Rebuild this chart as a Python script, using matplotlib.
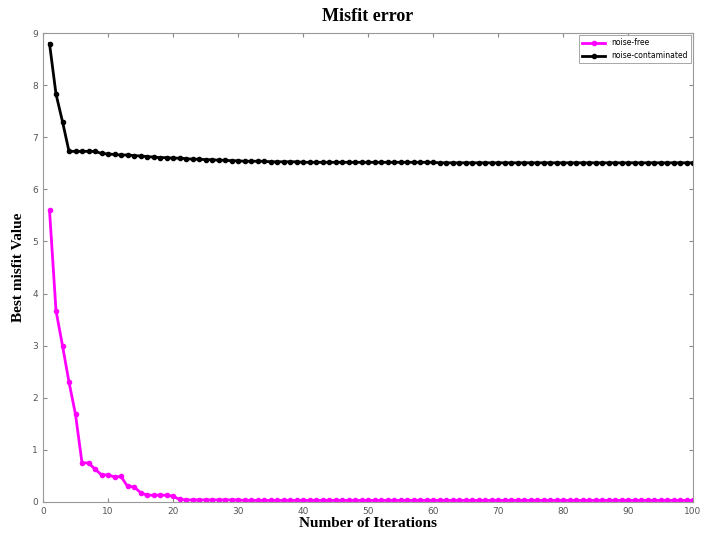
import matplotlib
matplotlib.use("Agg")
import matplotlib.pyplot as plt
import numpy as np

iterations = np.arange(1, 101)

noise_free = [5.60, 3.67, 3.00, 2.30, 1.68, 0.75, 0.75, 0.63, 0.52, 0.52,
              0.48, 0.49, 0.30, 0.29, 0.18, 0.13, 0.13, 0.13, 0.13, 0.11,
              0.05, 0.04, 0.04, 0.04, 0.04, 0.04, 0.04, 0.04, 0.04, 0.04] + [0.03] * 70

noise_cont = [8.80, 7.83, 7.30, 6.73, 6.73, 6.73, 6.73, 6.73, 6.69, 6.68,
              6.67, 6.66, 6.66, 6.65, 6.64, 6.63, 6.62, 6.61, 6.61, 6.60,
              6.60, 6.59, 6.58, 6.58, 6.57, 6.57, 6.56, 6.56, 6.55, 6.55,
              6.54, 6.54, 6.54, 6.54, 6.53, 6.53, 6.53, 6.53, 6.53, 6.52] + [6.52] * 20 + [6.51] * 40

fig = plt.figure(figsize=(7.05, 5.34), dpi=100)
ax = fig.add_axes([0.061, 0.060, 0.922, 0.878])

ax.plot(iterations, noise_free, color="#ff00ff", lw=2, marker="o", ms=3, label="noise-free")
ax.plot(iterations, noise_cont, color="black", lw=2, marker="o", ms=3, label="noise-contaminated")

ax.set_xlim(0, 100)
ax.set_ylim(0, 9)
ax.set_xticks(np.arange(0, 101, 10))
ax.set_yticks(np.arange(0, 10, 1))
ax.tick_params(direction="in", top=True, right=True, labelsize=6.5, colors="#888888",
               labelcolor="#555555", length=3)
for s in ax.spines.values():
    s.set_color("#999999")

ax.set_title("Misfit error", fontfamily="Liberation Serif", fontweight="bold", fontsize=13, pad=9)
ax.set_xlabel("Number of Iterations", fontfamily="Liberation Serif", fontweight="bold", fontsize=11, labelpad=1)
ax.set_ylabel("Best misfit Value", fontfamily="Liberation Serif", fontweight="bold", fontsize=11, labelpad=5)

leg = ax.legend(loc="upper right", fontsize=5.5, fancybox=False, borderaxespad=0.3,
                handlelength=3, edgecolor="#999999", framealpha=1)
leg.get_frame().set_linewidth(0.6)

fig.savefig("out.png", dpi=100)
